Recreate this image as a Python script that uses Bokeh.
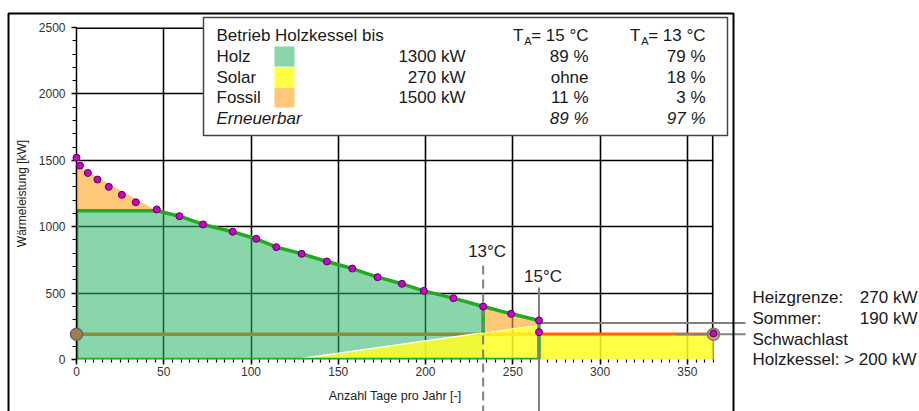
from bokeh.plotting import figure
from bokeh.models import Range1d, SingleIntervalTicker, Label, BoxAnnotation, Span
from bokeh.embed import file_html
from bokeh.resources import INLINE

# ---------------- data ----------------
load_days = [0, 2, 6.5, 12, 18.5, 26, 34, 46, 59, 72.5, 89.5, 103, 114.5, 129,
             143.5, 158, 172.5, 186.5, 199, 216, 233, 249, 265, 265, 365]
load_kw = [1520, 1460, 1405, 1355, 1300, 1240, 1184, 1130, 1079, 1017, 962, 909,
           846, 796, 738, 685, 620, 570, 517, 462, 399, 344, 294, 206, 196]

holz_cap_day = 46
holz_cap_kw = 1120
peak_days = [0, 46]
peak_kw = [1460, 1120]

solar_days = [125, 265, 265, 365, 365]
solar_kw = [0, 262, 180, 180, 0]

t13_day = 233
t15_day = 265
sommer_kw = 190
heizgrenze_kw = 275

x_max = 365
y_max = 2500
x_tick_step = 50
y_tick_step = 500

legend_title = "Betrieb Holzkessel bis"
legend_names = ["Holz", "Solar", "Fossil"]
legend_power = ["1300 kW", "270 kW", "1500 kW"]
share_15 = ["89 %", "ohne", "11 %"]
share_13 = ["79 %", "18 %", "3 %"]
renew_label = "Erneuerbar"
renew_15 = "89 %"
renew_13 = "97 %"

notes_left = ["Heizgrenze:", "Sommer:", "Schwachlast", "Holzkessel: > 200 kW"]
notes_right = ["270 kW", "190 kW", "", ""]

# ---------------- layout / styles ----------------
W, H = 919, 411
FL, FR, FT, FB = 76, 713, 27, 359          # plot frame edges (px)
PXD = (FR - FL) / x_max                    # px per day
PXK = (FB - FT) / y_max                    # px per kW

FONT = "Liberation Sans"
GREEN = "#28B464"; GREEN_A = 0.55
YELLOW = "#FFFF22"; YELLOW_A = 0.85
ORANGE = "#FFA31E"; ORANGE_A = 0.6
GREEN_LINE = "#22AA22"
GRAY = "#808080"

# ---------------- main plot (data + axes) ----------------
p = figure(width=W, height=H, x_range=Range1d(0, x_max), y_range=Range1d(0, y_max),
           output_backend="svg", toolbar_location=None,
           min_border_left=FL, min_border_right=W - FR, min_border_top=FT,
           min_border_bottom=H - FB,
           background_fill_color="white", border_fill_color="white",
           outline_line_color=None)

p.xaxis.ticker = SingleIntervalTicker(interval=x_tick_step, num_minor_ticks=10)
p.yaxis.ticker = SingleIntervalTicker(interval=y_tick_step, num_minor_ticks=5)
p.xgrid.ticker = p.xaxis.ticker
p.ygrid.ticker = p.yaxis.ticker
for g in (p.xgrid, p.ygrid):
    g.grid_line_color = "black"
    g.grid_line_width = 1.6

for ax in (p.xaxis, p.yaxis):
    ax.major_label_text_font = FONT
    ax.major_label_text_font_size = "12px"
    ax.major_label_text_color = "#333333"
    ax.axis_label_text_font = FONT
    ax.axis_label_text_font_style = "normal"
    ax.axis_label_text_color = "#222222"
    ax.major_tick_in = 0
    ax.minor_tick_in = 0
    ax.major_tick_line_color = "black"
    ax.minor_tick_line_color = "black"
    ax.major_tick_line_width = 1.5
    ax.minor_tick_line_width = 1.2

p.xaxis.axis_label = "Anzahl Tage pro Jahr [-]"
p.xaxis.axis_label_text_font_size = "12.5px"
p.xaxis.axis_line_color = None
p.xaxis.major_tick_out = 5
p.xaxis.minor_tick_out = 3
p.xaxis.major_label_standoff = 2
p.xaxis.axis_label_standoff = 10

p.yaxis.axis_label = "Wärmeleistung [kW]"
p.yaxis.axis_label_text_font_size = "12px"
p.yaxis.axis_line_color = "black"
p.yaxis.axis_line_width = 1.5
p.yaxis.major_tick_out = 5
p.yaxis.minor_tick_out = 4
p.yaxis.major_label_standoff = 6
p.yaxis.axis_label_standoff = 7

# frame edges (top / right) beneath the fills
p.add_layout(Span(location=x_max, dimension="height", line_color="black", line_width=3.2, level="underlay"))
p.add_layout(Span(location=y_max, dimension="width", line_color="black", line_width=3.2, level="underlay"))

# summer base line (beneath the fills)
p.line([load_days[0], load_days[-1]], [sommer_kw, sommer_kw], line_color="#FF6600", line_width=3.5)

# fossil peak (top-left)
p.patch([peak_days[0], peak_days[0], peak_days[1]], [holz_cap_kw, peak_kw[0], peak_kw[1]],
        fill_color=ORANGE, fill_alpha=ORANGE_A, line_color=None)

# Holz area
i0 = 8
i13 = load_days.index(t13_day)
i15 = load_days.index(t15_day)
hx = [0, 0, holz_cap_day] + load_days[i0:i13 + 1] + [t13_day]
hy = [0, holz_cap_kw, holz_cap_kw] + load_kw[i0:i13 + 1] + [0]
p.patch(hx, hy, fill_color=GREEN, fill_alpha=GREEN_A, line_color=None)

# Solar area
p.patch(solar_days, solar_kw, fill_color=YELLOW, fill_alpha=YELLOW_A, line_color=None)
p.line(solar_days[:2], solar_kw[:2], line_color="white", line_width=1.3)

# fossil wedge between 13 and 15 degC
sol_slope = (solar_kw[1] - solar_kw[0]) / (solar_days[1] - solar_days[0])
sol13 = solar_kw[0] + sol_slope * (t13_day - solar_days[0])
fx = load_days[i13:i15 + 1] + [t15_day, t13_day]
fy = load_kw[i13:i15 + 1] + [solar_kw[1], sol13]
p.patch(fx, fy, fill_color=ORANGE, fill_alpha=ORANGE_A, line_color=None)

# Holz outline
ox = [t15_day, 0, 0, holz_cap_day] + load_days[i0:i15 + 1] + [t15_day]
oy = [0, 0, holz_cap_kw, holz_cap_kw] + load_kw[i0:i15 + 1] + [0]
p.line(ox, oy, line_color=GREEN_LINE, line_width=3.5)
p.line([t13_day, t13_day], [load_kw[i13], sol13], line_color=GREEN_LINE, line_width=3.5)

# ---------------- overlay (same scales, frame = whole canvas) ----------------
ov = figure(width=W, height=H,
            x_range=Range1d(-FL / PXD, (W - FL) / PXD),
            y_range=Range1d(-(H - FB) / PXK, FB / PXK),
            x_axis_type=None, y_axis_type=None, min_border=0,
            output_backend="svg", toolbar_location=None, outline_line_color=None,
            background_fill_alpha=0, border_fill_alpha=0,
            styles={"position": "absolute", "left": "0px", "top": "0px"})
y_bottom = ov.y_range.start
x_note = (745 - FL) / PXD

# marker lines
ov.line([t13_day, t13_day], [708, y_bottom], line_color=GRAY, line_width=2, line_dash="9 5")
ov.line([t15_day, t15_day], [542, y_bottom], line_color=GRAY, line_width=2)
ov.line([t15_day, x_note], [heizgrenze_kw, heizgrenze_kw], line_color=GRAY, line_width=2)

# end markers of the summer line
ov.scatter([load_days[0]], [sommer_kw], size=12, fill_color="#A08048", line_color="#666666", line_width=1.5)
ov.scatter([load_days[-1]], [sommer_kw], size=12, fill_color="#E6A070", line_color="#777777", line_width=1.5)
ov.line([343.5, x_note], [sommer_kw, sommer_kw], line_color=GRAY, line_width=2)

# load points
ov.scatter(load_days, load_kw, size=7, fill_color="#CC00CC", line_color="#5A005A", line_width=1)


def lab(text, x, y, size="17px", align="left", style="normal", xu="canvas", yu="canvas",
        color="#1a1a1a", xoff=0):
    ov.add_layout(Label(x=x, y=y, x_units=xu, y_units=yu, text=text, text_font=FONT,
                        text_font_size=size, text_align=align, text_baseline="middle",
                        text_font_style=style, text_color=color, x_offset=xoff))


lab("13°C", t13_day, 251, align="center", xu="data", xoff=4, color="#222222")
lab("15°C", t15_day, 276, align="center", xu="data", xoff=4, color="#222222")

# notes on the right
note_y = [297, 318, 338.5, 359]
for t, y in zip(notes_left, note_y):
    lab(t, 752, y)
for t, y in zip(notes_right, note_y):
    if t:
        lab(t, 917, y, align="right")


def cbox(l, r, t, b, **kw):
    ov.add_layout(BoxAnnotation(left=l, right=r, top=t, bottom=b,
                                left_units="canvas", right_units="canvas",
                                top_units="canvas", bottom_units="canvas", **kw))


# legend box
cbox(203, 727, 17, 135, fill_color="white", fill_alpha=1, line_color="#444444",
     line_alpha=1, line_width=1.5, line_dash="solid")
row_y = [35, 56, 76.5, 97, 118]
lab(legend_title, 216, row_y[0])
for sx, tx in ((588, "15"), (705, "13")):
    lab("= " + tx + " °C", sx, row_y[0], align="right")
    lab("A", sx - 57, row_y[0] + 5, size="11px", align="right")
    lab("T", sx - 65, row_y[0], align="right")
sq_cols = [(GREEN, GREEN_A), (YELLOW, YELLOW_A), (ORANGE, ORANGE_A)]
for k in range(3):
    y = row_y[k + 1]
    lab(legend_names[k], 216, y)
    c, a = sq_cols[k]
    cbox(274, 294, y - 10, y + 10, fill_color=c, fill_alpha=a, line_color=None)
    lab(legend_power[k], 465, y, align="right")
    lab(share_15[k], 588, y, align="right")
    lab(share_13[k], 705, y, align="right")
lab(renew_label, 216, row_y[4], style="italic")
lab(renew_15, 588, row_y[4], align="right", style="italic")
lab(renew_13, 705, row_y[4], align="right", style="italic")

# outer chart frame
cbox(8, 733, 13, 440, fill_alpha=0, line_color="black", line_alpha=1, line_width=2,
     line_dash="solid")

open("out.html", "w").write(file_html([p, ov], INLINE))
